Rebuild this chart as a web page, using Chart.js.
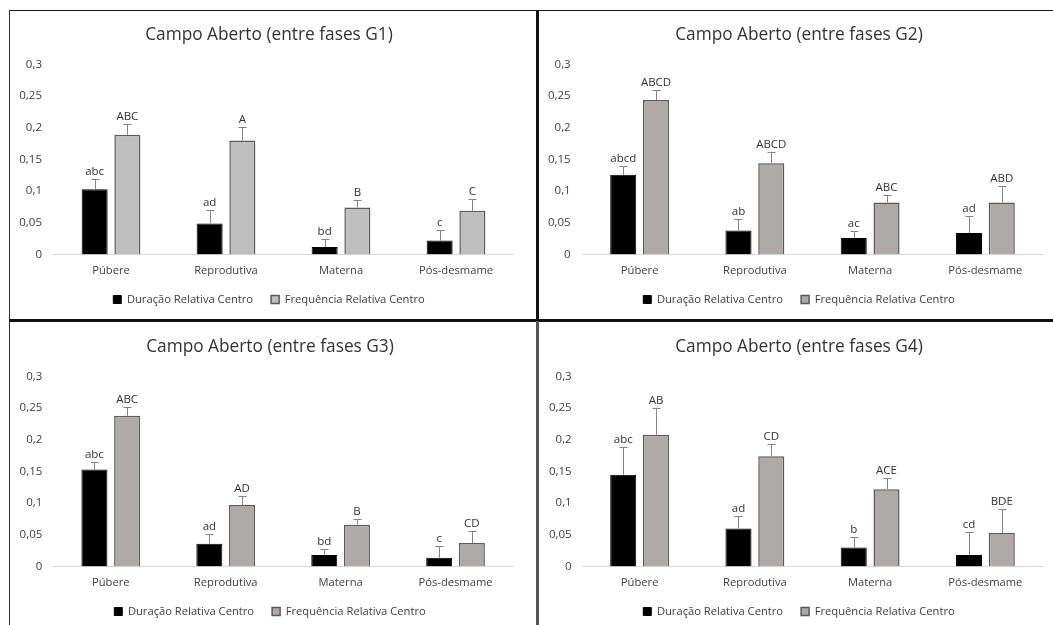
<!DOCTYPE html>
<html lang="pt">
<head>
<meta charset="utf-8">
<title>Campo Aberto (entre fases)</title>
<script src="https://cdn.jsdelivr.net/npm/chart.js@4.4.1/dist/chart.umd.min.js"></script>
<style>
  html, body { margin: 0; padding: 0; background: #fff; width: 1053px; height: 625px; overflow: hidden; }
  canvas.painel { position: absolute; }
  .linha { position: absolute; }
</style>
</head>
<body>
<!-- molduras dos quatro painéis -->
<div class="linha" style="left:9px;top:10px;width:1044px;height:1px;background:#1a1a1a"></div>
<div class="linha" style="left:9px;top:10px;width:1px;height:615px;background:#333"></div>
<div class="linha" style="left:9px;top:319px;width:1044px;height:3px;background:#111"></div>
<div class="linha" style="left:536px;top:10px;width:3px;height:311px;background:#111"></div>
<div class="linha" style="left:536px;top:321px;width:3px;height:304px;background:#555"></div>

<canvas id="g1" class="painel" width="526" height="308" style="left:10px;top:11px"></canvas>
<canvas id="g2" class="painel" width="530" height="308" style="left:539px;top:11px"></canvas>
<canvas id="g3" class="painel" width="526" height="308" style="left:10px;top:323px"></canvas>
<canvas id="g4" class="painel" width="530" height="308" style="left:539px;top:323px"></canvas>

<script>
// Fases comparadas em cada grupo
const categorias = ['Púbere', 'Reprodutiva', 'Materna', 'Pós-desmame'];

// Eixo Y: valores e rótulos das marcas
const valoresEixoY = [0, 0.05, 0.1, 0.15, 0.2, 0.25, 0.3];
const rotulosEixoY = ['0', '0,05', '0,1', '0,15', '0,2', '0,25', '0,3'];

const nomeDuracao = 'Duração Relativa Centro';
const nomeFrequencia = 'Frequência Relativa Centro';

// G1 — médias, erro (barra superior) e letras de significância
const g1Duracao = [0.103, 0.049, 0.012, 0.022];
const g1DuracaoErro = [0.016, 0.021, 0.012, 0.017];
const g1DuracaoLetras = ['abc', 'ad', 'bd', 'c'];
const g1Frequencia = [0.189, 0.180, 0.074, 0.069];
const g1FrequenciaErro = [0.017, 0.021, 0.012, 0.018];
const g1FrequenciaLetras = ['ABC', 'A', 'B', 'C'];

// G2
const g2Duracao = [0.126, 0.038, 0.026, 0.034];
const g2DuracaoErro = [0.014, 0.018, 0.011, 0.026];
const g2DuracaoLetras = ['abcd', 'ab', 'ac', 'ad'];
const g2Frequencia = [0.244, 0.144, 0.082, 0.082];
const g2FrequenciaErro = [0.015, 0.018, 0.012, 0.026];
const g2FrequenciaLetras = ['ABCD', 'ABCD', 'ABC', 'ABD'];

// G3
const g3Duracao = [0.153, 0.036, 0.018, 0.014];
const g3DuracaoErro = [0.012, 0.015, 0.010, 0.019];
const g3DuracaoLetras = ['abc', 'ad', 'bd', 'c'];
const g3Frequencia = [0.238, 0.097, 0.066, 0.037];
const g3FrequenciaErro = [0.013, 0.015, 0.009, 0.019];
const g3FrequenciaLetras = ['ABC', 'AD', 'B', 'CD'];

// G4
const g4Duracao = [0.145, 0.060, 0.030, 0.018];
const g4DuracaoErro = [0.043, 0.019, 0.016, 0.036];
const g4DuracaoLetras = ['abc', 'ad', 'b', 'cd'];
const g4Frequencia = [0.208, 0.174, 0.122, 0.053];
const g4FrequenciaErro = [0.042, 0.019, 0.017, 0.038];
const g4FrequenciaLetras = ['AB', 'CD', 'ACE', 'BDE'];

const FONTE = '"Open Sans", "DejaVu Sans", sans-serif';
const COR_TEXTO = '#404040';

// Desenha a barra de erro superior (com traço) e a letra acima de cada barra
const barrasDeErro = {
  id: 'barrasDeErro',
  afterDatasetsDraw(chart) {
    const ctx = chart.ctx;
    const y = chart.scales.y;
    chart.data.datasets.forEach((ds, di) => {
      const meta = chart.getDatasetMeta(di);
      meta.data.forEach((barra, i) => {
        const topo = Math.round(y.getPixelForValue(ds.data[i] + ds.erro[i])) + 0.5;
        const x = Math.round(barra.x) + 0.5;
        ctx.save();
        ctx.strokeStyle = '#858585';
        ctx.lineWidth = 1;
        ctx.beginPath();
        ctx.moveTo(x, barra.y);
        ctx.lineTo(x, topo);
        ctx.moveTo(x - 4, topo);
        ctx.lineTo(x + 4, topo);
        ctx.stroke();
        ctx.fillStyle = '#333333';
        ctx.font = '11.5px ' + FONTE;
        ctx.textAlign = 'center';
        ctx.textBaseline = 'alphabetic';
        ctx.fillText(ds.letras[i], barra.x, topo - 5);
        ctx.restore();
      });
    });
  }
};

// eixoLarg: largura do eixo Y; eixoPad: afastamento dos rótulos; margemDir: eixo vazio à direita; dir: folga final
function criarPainel(id, titulo, serieDur, erroDur, letrasDur, serieFreq, erroFreq, letrasFreq, cinza, eixoLarg, eixoPad, margemDir, dir) {
  return new Chart(document.getElementById(id), {
    type: 'bar',
    data: {
      labels: categorias,
      datasets: [
        { label: nomeDuracao, data: serieDur, erro: erroDur, letras: letrasDur,
          backgroundColor: '#000000', borderColor: '#000000', borderWidth: 1 },
        { label: nomeFrequencia, data: serieFreq, erro: erroFreq, letras: letrasFreq,
          backgroundColor: cinza, borderColor: '#5a5a5a', borderWidth: 1.5 }
      ]
    },
    options: {
      responsive: false,
      animation: false,
      devicePixelRatio: 1,
      categoryPercentage: 0.569,
      barPercentage: 0.795,
      layout: { padding: { left: 0, right: dir, top: 0, bottom: 3.9 } },
      plugins: {
        tooltip: { enabled: false },
        title: {
          display: true,
          text: titulo,
          color: '#333333',
          font: { family: FONTE, size: 17.3, weight: 'normal', lineHeight: 1.2 },
          padding: { top: 13.6, bottom: 19.1 }
        },
        legend: {
          position: 'bottom',
          labels: {
            boxWidth: 8, boxHeight: 8, padding: 18,
            color: COR_TEXTO,
            font: { family: FONTE, size: 11.2 }
          }
        }
      },
      scales: {
        x: {
          grid: { display: false, drawTicks: false },
          border: { display: true, color: '#d9d9d9', width: 1 },
          ticks: { color: COR_TEXTO, padding: 9.3, font: { family: FONTE, size: 11.2 }, maxRotation: 0 },
          afterFit(escala) { escala.height = 21.4; }
        },
        y: {
          min: 0, max: 0.3,
          grid: { display: false, drawTicks: false },
          border: { display: false },
          afterBuildTicks(escala) { escala.ticks = valoresEixoY.map(v => ({ value: v })); },
          ticks: {
            color: COR_TEXTO, padding: eixoPad,
            font: { family: FONTE, size: 11.5 },
            callback: (v, i) => rotulosEixoY[i]
          },
          afterFit(escala) { escala.width = eixoLarg; }
        },
        margem: {
          type: 'linear',
          position: 'right',
          display: true,
          grid: { display: false, drawTicks: false },
          border: { display: false },
          ticks: { display: false },
          afterFit(escala) { escala.width = margemDir; }
        }
      }
    },
    plugins: [barrasDeErro]
  });
}

criarPainel('g1', 'Campo Aberto (entre fases G1)', g1Duracao, g1DuracaoErro, g1DuracaoLetras,
  g1Frequencia, g1FrequenciaErro, g1FrequenciaLetras, '#bfbfbf', 43.5, 11.5, 14.5, 8);
criarPainel('g2', 'Campo Aberto (entre fases G2)', g2Duracao, g2DuracaoErro, g2DuracaoLetras,
  g2Frequencia, g2FrequenciaErro, g2FrequenciaLetras, '#aeaaaa', 43, 11.3, 16, 10);
criarPainel('g3', 'Campo Aberto (entre fases G3)', g3Duracao, g3DuracaoErro, g3DuracaoLetras,
  g3Frequencia, g3FrequenciaErro, g3FrequenciaLetras, '#aeaaaa', 43.3, 11, 17, 6);
criarPainel('g4', 'Campo Aberto (entre fases G4)', g4Duracao, g4DuracaoErro, g4DuracaoLetras,
  g4Frequencia, g4FrequenciaErro, g4FrequenciaLetras, '#aeaaaa', 43, 10.3, 16, 10);
</script>
</body>
</html>
